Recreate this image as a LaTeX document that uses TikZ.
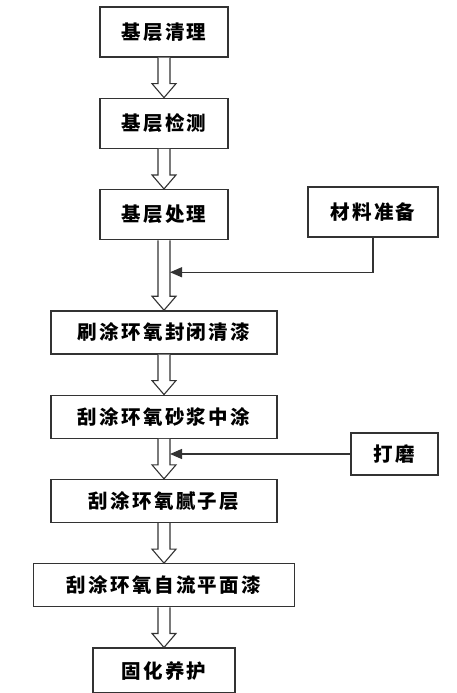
\documentclass[tikz,border=0pt]{standalone}
\usepackage{fontspec}
\newfontfamily\cjk{Noto Sans CJK SC}[LetterSpace=12]
\usetikzlibrary{arrows.meta, positioning, calc}
\tikzset{
  box/.style      = {rectangle, draw=black!80, line width=1.3pt, fill=white,
                     minimum height=43pt, align=center, inner sep=0pt,
                     font=\cjk\bfseries\fontsize{19.5}{23}\selectfont},
  tallbox/.style  = {box, minimum height=50pt},
  fatarrow/.style = {draw=black!80, line width=1.1pt, fill=white,
                     line join=miter},
  feed/.style     = {-{Triangle[length=12pt, width=10pt]}, line width=1.2pt,
                     draw=black!80},
}
% hollow block arrow from one step to the next
\newcommand{\hollowarrow}[2]{%
  \draw[fatarrow] ($(#1.south)+(-6pt,0)$) -- ($(#2.north)+(-6pt,14pt)$)
    -- ++(-6pt,0) -- (#2.north) -- ++(12pt,14pt) -- ++(-6pt,0)
    -- ($(#1.south)+(6pt,0)$);}

\begin{document}
\begin{tikzpicture}[x=1pt, y=1pt, node distance=40pt]

    \useasboundingbox (0,0) rectangle (457,-693);

    \node[tallbox, minimum width=128pt] (clean) at (164,-32)
      {基层清理};

    \node[tallbox, minimum width=128pt, below=of clean]
      (check)
      {基层检测};

    \node[tallbox, minimum width=128pt, below=of check]
      (treat)
      {基层处理};

    \node[tallbox, minimum width=130pt] (mat) at (373,-212)
      {材料准备};

    \node[box, minimum width=226pt, below=70pt of treat]
      (seal)
      {刷涂环氧封闭清漆};

    \node[box, minimum width=226pt, below=of seal]
      (mortar)
      {刮涂环氧砂浆中涂};

    \node[box, minimum width=226pt, below=of mortar]
      (putty)
      {刮涂环氧腻子层};

    \node[box, minimum width=261pt, below=of putty]
      (level)
      {刮涂环氧自流平面漆};

    \node[box, minimum width=142pt, minimum height=45pt, below=of level]
      (cure)
      {固化养护};

    \node[box, minimum width=87pt, minimum height=42pt] (grind) at (394.5,-454)
      {打磨};

    \hollowarrow{clean}{check}
    \hollowarrow{check}{treat}
    \hollowarrow{treat}{seal}
    \hollowarrow{seal}{mortar}
    \hollowarrow{mortar}{putty}
    \hollowarrow{putty}{level}
    \hollowarrow{level}{cure}

    \coordinate (in1) at ($(treat.south)+(6pt,-32pt)$);
    \coordinate (in2) at (170,-454);

    \draw[feed] (mat.south) |- (in1);
    \draw[feed] (grind.west) -- (in2);

  \end{tikzpicture}
\end{document}
